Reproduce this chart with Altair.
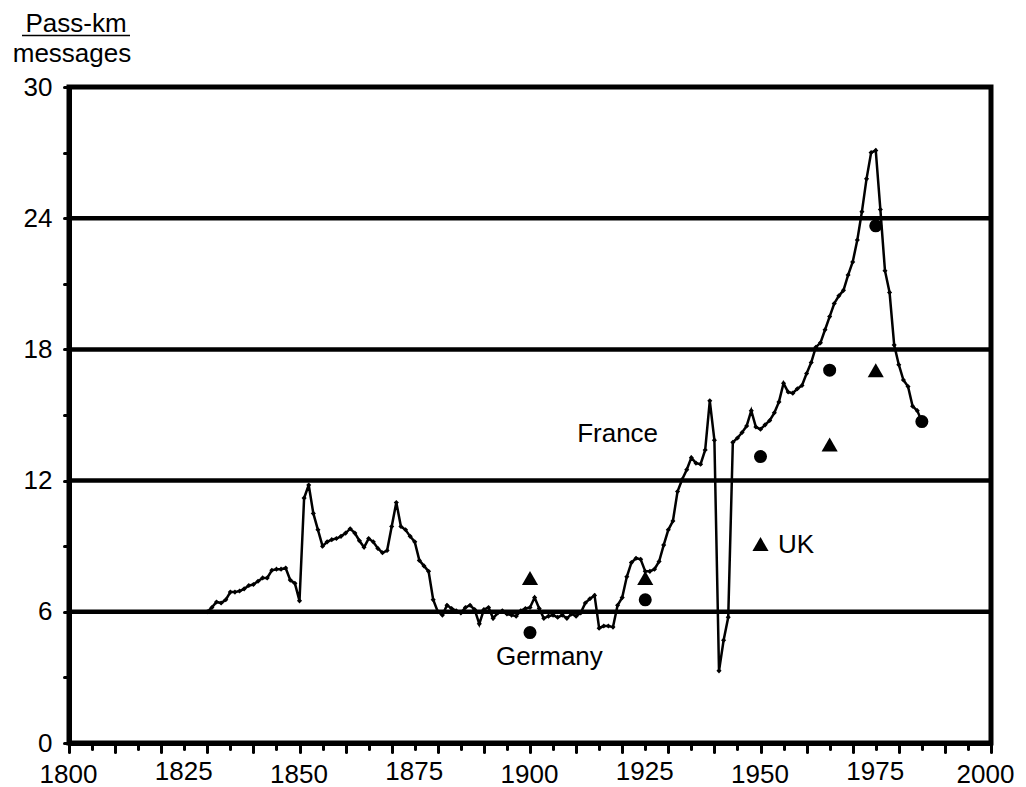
import altair as alt
import pandas as pd

# France series (annual)
france_years = list(range(1830, 1986))
france_vals = (
    [6.0, 6.2, 6.45, 6.4, 6.55, 6.9, 6.9, 6.95, 7.05, 7.2]          # 1830s
    + [7.25, 7.4, 7.55, 7.55, 7.9, 7.95, 7.95, 8.0, 7.45, 7.3]      # 1840s
    + [6.5, 11.2, 11.8, 10.5, 9.75, 9.0, 9.2, 9.3, 9.35, 9.45]      # 1850s
    + [9.6, 9.8, 9.6, 9.25, 8.95, 9.35, 9.2, 8.9, 8.7, 8.8]         # 1860s
    + [9.9, 11.0, 9.9, 9.75, 9.45, 9.2, 8.35, 8.1, 7.85, 6.55]      # 1870s
    + [6.0, 5.85, 6.3, 6.15, 6.05, 5.95, 6.2, 6.3, 6.1, 5.45]       # 1880s
    + [6.1, 6.2, 5.7, 5.95, 6.05, 5.9, 5.85, 5.8, 6.05, 6.15]       # 1890s
    + [6.2, 6.65, 6.15, 5.7, 5.8, 5.85, 5.75, 5.85, 5.7, 5.9]       # 1900s
    + [5.8, 5.95, 6.4, 6.6, 6.75, 5.25, 5.35, 5.35, 5.3, 6.3]       # 1910s
    + [6.65, 7.6, 8.25, 8.45, 8.4, 7.85, 7.85, 7.95, 8.3, 9.05]     # 1920s
    + [9.75, 10.15, 11.5, 12.05, 12.5, 13.05, 12.8, 12.75, 13.4, 15.65]  # 1930s
    + [13.85, 3.3, 4.7, 5.75, 13.75, 13.95, 14.2, 14.5, 15.2, 14.45]     # 1940s
    + [14.35, 14.55, 14.75, 15.1, 15.6, 16.45, 16.05, 16.0, 16.2, 16.35] # 1950s
    + [16.9, 17.4, 18.1, 18.3, 18.9, 19.5, 20.1, 20.45, 20.7, 21.4]      # 1960s
    + [22.0, 23.0, 24.3, 25.8, 27.0, 27.1, 24.4, 21.6, 20.6, 18.2]       # 1970s
    + [17.3, 16.6, 16.3, 15.4, 15.2, 14.7]                               # 1980-85
)
assert len(france_vals) == len(france_years)

germany_years = [1900, 1925, 1950, 1965, 1975, 1985]
germany_vals = [5.05, 6.55, 13.1, 17.05, 23.65, 14.7]

uk_years = [1900, 1925, 1950, 1965, 1975]
uk_vals = [7.55, 7.55, 9.1, 13.65, 17.05]

label_text = ["France", "Germany", "UK"]
label_x = [1919.0, 1904.2, 1957.7]
label_y = [14.15, 3.95, 9.05]

grid_vals = [6, 12, 18, 24]
x_tick_vals = list(range(1800, 2001, 5))
y_tick_vals = list(range(0, 31, 3))

FONT = "Liberation Sans"

france_df = pd.DataFrame({"year": france_years, "value": france_vals})
germany_df = pd.DataFrame({"year": germany_years, "value": germany_vals})
uk_df = pd.DataFrame({"year": uk_years, "value": uk_vals})
labels_df = pd.DataFrame({"year": label_x, "value": label_y, "text": label_text})
grid_df = pd.DataFrame({"value": grid_vals, "year": [1800] * len(grid_vals)})

xscale = alt.Scale(domain=[1800, 2000], nice=False, zero=False)
yscale = alt.Scale(domain=[0, 30], nice=False)

x_axis = alt.Axis(
    values=x_tick_vals,
    labelExpr="datum.value % 25 === 0 ? '' + datum.value : ''",
    tickSize={"condition": {"test": "datum.value % 10 === 0", "value": 9}, "value": 6},
    labelOffset={"condition": {"test": "datum.value === 2000", "value": -6}, "value": -1},
    tickWidth=3,
    tickColor="black",
    tickCap="round",
    domainColor="black",
    domainWidth=5,
    labelFont=FONT,
    labelFontSize=26,
    labelColor="black",
    labelPadding=9,
    labelFlush=False,
    labelOverlap=False,
    grid=False,
    title=None,
)
y_axis = alt.Axis(
    values=y_tick_vals,
    labelExpr="datum.value % 6 === 0 ? '' + datum.value : ''",
    tickSize=5,
    tickWidth=3,
    tickColor="black",
    tickCap="round",
    domainColor="black",
    domainWidth=5,
    labelFont=FONT,
    labelFontSize=26,
    labelColor="black",
    labelPadding=12,
    labelOverlap=False,
    grid=False,
    title=None,
)

X = alt.X("year:Q", scale=xscale, axis=x_axis)
Y = alt.Y("value:Q", scale=yscale, axis=y_axis)

grid = alt.Chart(grid_df).mark_rule(color="black", strokeWidth=4.5).encode(y=Y)

line = alt.Chart(france_df).mark_line(
    color="black",
    strokeWidth=2.5,
    point=alt.OverlayMarkDef(shape="diamond", size=26, filled=True, color="black", opacity=1),
).encode(x=X, y=Y)

germany = alt.Chart(germany_df).mark_point(
    shape="circle", filled=True, size=170, color="black", opacity=1
).encode(x=X, y=Y)

uk = alt.Chart(uk_df).mark_point(
    shape="triangle-up", filled=True, size=260, color="black", opacity=1
).encode(x=X, y=Y)

labels = alt.Chart(labels_df).mark_text(
    font=FONT, fontSize=26, color="black", align="center", baseline="middle"
).encode(x=X, y=Y, text="text:N")

title_df = pd.DataFrame({"t": ["Pass-km"]})
title1 = alt.Chart(title_df).mark_text(
    font=FONT, fontSize=26, color="black", align="center", baseline="alphabetic"
).encode(x=alt.value(7), y=alt.value(-55), text="t:N")

title_df2 = pd.DataFrame({"t": ["messages"]})
title2 = alt.Chart(title_df2).mark_text(
    font=FONT, fontSize=26, color="black", align="center", baseline="alphabetic"
).encode(x=alt.value(3), y=alt.value(-25), text="t:N")

underline = alt.Chart(title_df).mark_rule(color="black", strokeWidth=1.5).encode(
    x=alt.value(-47), x2=alt.value(61), y=alt.value(-51.5)
)

chart = (
    alt.layer(grid, line, germany, uk, labels, title1, title2, underline)
    .properties(
        width=922,
        height=656,
        autosize=alt.AutoSizeParams(type="none"),
        padding={"left": 61, "top": 79, "right": 27, "bottom": 44},
        background="white",
    )
    .configure_view(stroke="black", strokeWidth=5)
)

chart.save("out.html", embed_options={"renderer": "svg", "actions": False})
